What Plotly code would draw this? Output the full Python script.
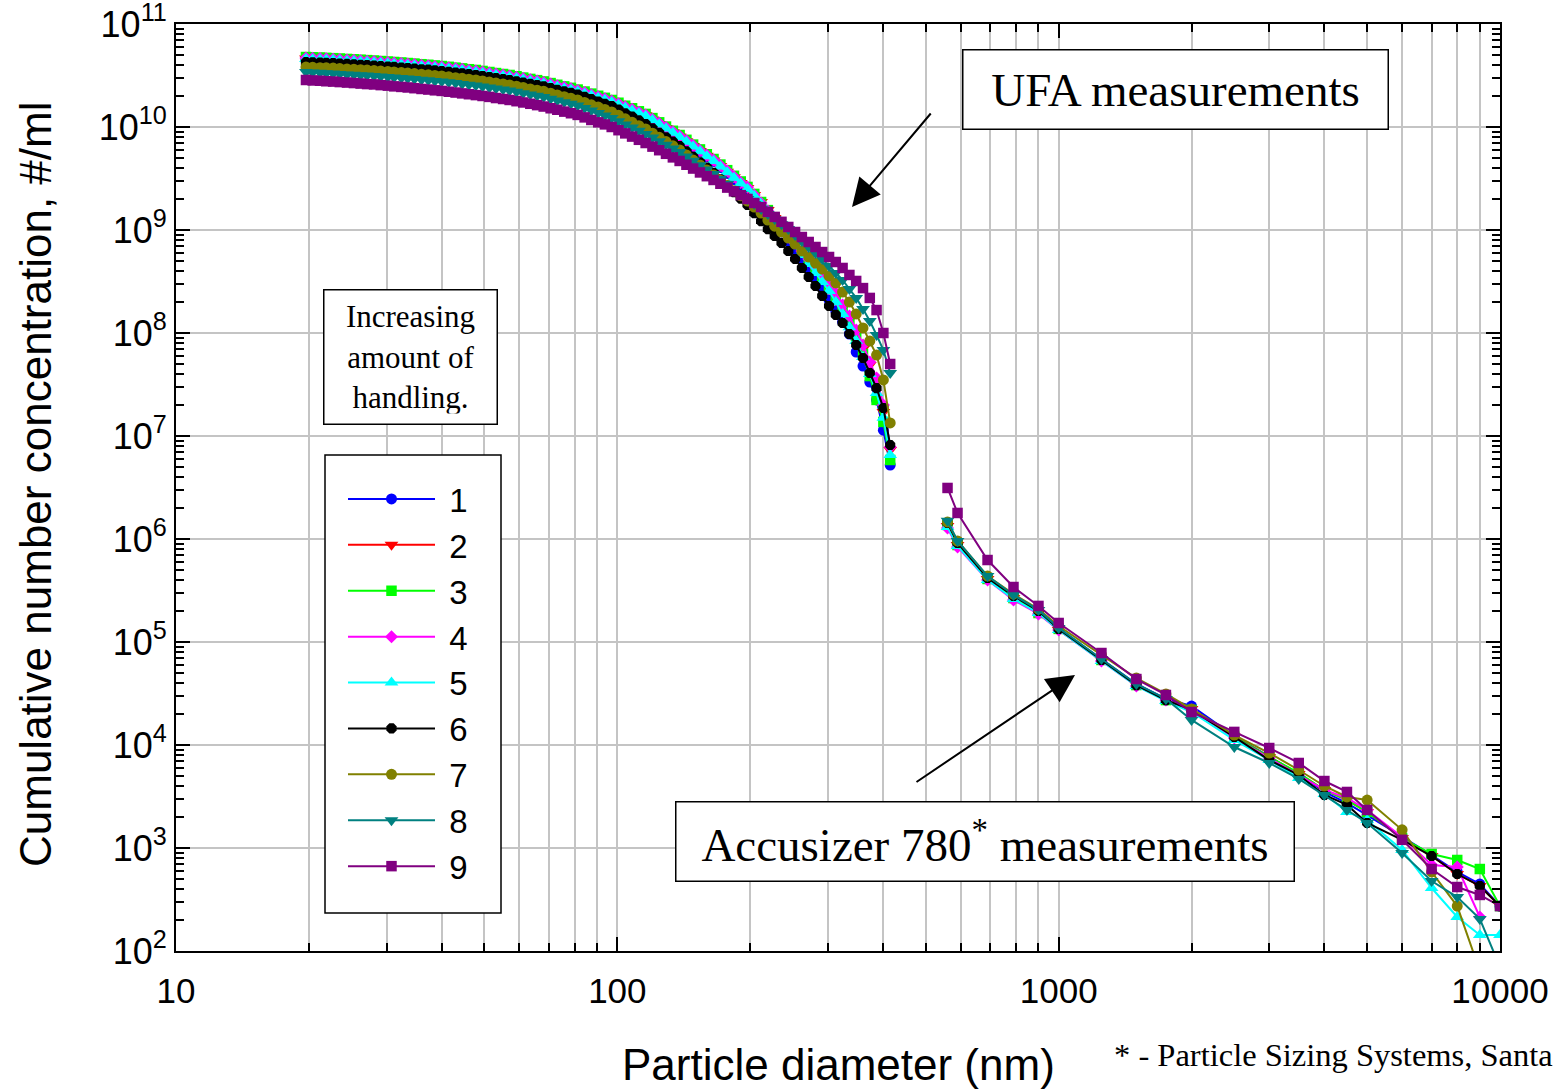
import plotly.graph_objects as go

# UFA channel diameters (nm)
UFA_D = [19.7, 20.4, 21.2, 21.9, 22.7, 23.5, 24.4, 25.3, 26.2, 27.1,
         28.1, 29.1, 30.2, 31.2, 32.4, 33.5, 34.7, 36.0, 37.3, 38.6,
         40.0, 41.5, 43.0, 44.5, 46.1, 47.8, 49.5, 51.3, 53.1, 55.1,
         57.0, 59.1, 61.2, 63.5, 65.8, 68.1, 70.6, 73.1, 75.8, 78.5,
         81.3, 84.3, 87.3, 90.5, 93.7, 97.1, 100.6, 104.2, 108.0, 111.9,
         115.9, 120.1, 124.4, 128.9, 133.6, 138.4, 143.4, 148.5, 153.9, 159.5,
         165.2, 171.2, 177.4, 183.8, 190.4, 197.2, 204.3, 211.7, 219.3, 227.3,
         235.5, 244.0, 252.8, 261.9, 271.4, 281.2, 291.2, 301.8, 312.6, 323.9,
         335.6, 347.7, 360.3, 373.3, 386.7, 400.7, 415.2]

# Accusizer 780 channel diameters (nm)
ACC_D = [560, 590, 690, 790, 900, 1000, 1250, 1500, 1750, 2000, 2500,
         3000, 3500, 4000, 4500, 5000, 6000, 7000, 8000, 9000, 10000]

# Cumulative number concentration (#/ml), one list per sample
S1_UFA = [4.52e10, 4.49e10, 4.46e10, 4.44e10, 4.41e10, 4.37e10, 4.33e10, 4.29e10, 4.26e10, 4.22e10,
          4.18e10, 4.13e10, 4.09e10, 4.05e10, 4.00e10, 3.95e10, 3.91e10, 3.85e10, 3.80e10, 3.74e10,
          3.70e10, 3.63e10, 3.57e10, 3.51e10, 3.44e10, 3.39e10, 3.31e10, 3.23e10, 3.16e10, 3.09e10,
          3.03e10, 2.94e10, 2.86e10, 2.77e10, 2.70e10, 2.62e10, 2.53e10, 2.43e10, 2.35e10, 2.27e10,
          2.18e10, 2.09e10, 2.00e10, 1.90e10, 1.82e10, 1.73e10, 1.63e10, 1.52e10, 1.44e10, 1.34e10,
          1.27e10, 1.15e10, 1.05e10, 9.55e9, 8.69e9, 7.91e9, 7.10e9, 6.38e9, 5.73e9, 5.14e9,
          4.62e9, 4.04e9, 3.54e9, 3.09e9, 2.70e9, 2.34e9, 1.96e9, 1.64e9, 1.37e9, 1.14e9,
          9.56e8, 7.82e8, 6.39e8, 5.23e8, 4.28e8, 3.42e8, 2.73e8, 2.09e8, 1.64e8, 1.28e8,
          9.78e7, 6.54e7, 4.78e7, 3.34e7, 2.24e7, 1.14e7, 5.23e6]
S1_ACC = [1.40e6, 8.94e5, 4.18e5, 2.73e5, 1.96e5, 1.34e5, 6.84e4, 3.91e4, 2.80e4, 2.39e4, 1.22e4,
          7.65e3, 5.23e3, 3.50e3, 2.73e3, 2.09e3, 1.28e3, 855, 585, 447, 273]

S2_UFA = [4.62e10, 4.59e10, 4.56e10, 4.54e10, 4.51e10, 4.47e10, 4.43e10, 4.39e10, 4.35e10, 4.31e10,
          4.27e10, 4.23e10, 4.18e10, 4.14e10, 4.09e10, 4.04e10, 3.99e10, 3.94e10, 3.89e10, 3.83e10,
          3.78e10, 3.71e10, 3.65e10, 3.59e10, 3.52e10, 3.46e10, 3.38e10, 3.31e10, 3.23e10, 3.16e10,
          3.09e10, 3.01e10, 2.92e10, 2.83e10, 2.76e10, 2.68e10, 2.58e10, 2.49e10, 2.40e10, 2.32e10,
          2.23e10, 2.14e10, 2.04e10, 1.94e10, 1.86e10, 1.77e10, 1.66e10, 1.56e10, 1.47e10, 1.37e10,
          1.30e10, 1.18e10, 1.07e10, 9.77e9, 8.89e9, 8.08e9, 7.26e9, 6.53e9, 5.86e9, 5.26e9,
          4.73e9, 4.18e9, 3.68e9, 3.25e9, 2.86e9, 2.56e9, 2.19e9, 1.87e9, 1.56e9, 1.31e9,
          1.09e9, 9.15e8, 7.65e8, 6.39e8, 5.23e8, 4.28e8, 3.50e8, 2.86e8, 2.29e8, 1.75e8,
          1.34e8, 9.78e7, 6.99e7, 4.89e7, 3.27e7, 1.71e7, 7.31e6]
S2_ACC = [1.34e6, 8.74e5, 4.09e5, 2.67e5, 1.91e5, 1.31e5, 6.69e4, 3.82e4, 2.73e4, 2.24e4, 1.20e4,
          7.65e3, 5.23e3, 3.66e3, 2.92e3, 2.24e3, 1.25e3, 836, 559, 428, 273]

S3_UFA = [4.78e10, 4.75e10, 4.72e10, 4.69e10, 4.66e10, 4.62e10, 4.58e10, 4.54e10, 4.50e10, 4.46e10,
          4.42e10, 4.37e10, 4.32e10, 4.28e10, 4.23e10, 4.18e10, 4.13e10, 4.07e10, 4.02e10, 3.96e10,
          3.91e10, 3.84e10, 3.77e10, 3.71e10, 3.64e10, 3.58e10, 3.50e10, 3.42e10, 3.34e10, 3.27e10,
          3.20e10, 3.11e10, 3.02e10, 2.93e10, 2.85e10, 2.77e10, 2.67e10, 2.57e10, 2.48e10, 2.40e10,
          2.31e10, 2.21e10, 2.11e10, 2.01e10, 1.92e10, 1.83e10, 1.72e10, 1.61e10, 1.52e10, 1.42e10,
          1.34e10, 1.22e10, 1.11e10, 1.01e10, 9.19e9, 8.36e9, 7.51e9, 6.75e9, 6.06e9, 5.44e9,
          4.89e9, 4.32e9, 3.81e9, 3.36e9, 2.96e9, 2.62e9, 2.24e9, 1.87e9, 1.56e9, 1.31e9,
          1.09e9, 8.94e8, 7.48e8, 6.25e8, 5.11e8, 4.18e8, 3.42e8, 2.80e8, 2.19e8, 1.64e8,
          1.22e8, 8.94e7, 6.25e7, 3.82e7, 2.24e7, 1.37e7, 5.85e6]
S3_ACC = [1.37e6, 8.74e5, 4.09e5, 2.67e5, 1.91e5, 1.34e5, 6.69e4, 3.82e4, 2.73e4, 2.19e4, 1.20e4,
          7.65e3, 5.35e3, 3.66e3, 2.92e3, 2.24e3, 1.25e3, 874, 765, 625, 273]

S4_UFA = [4.67e10, 4.65e10, 4.62e10, 4.59e10, 4.56e10, 4.52e10, 4.48e10, 4.44e10, 4.40e10, 4.36e10,
          4.32e10, 4.27e10, 4.22e10, 4.19e10, 4.14e10, 4.09e10, 4.04e10, 3.98e10, 3.93e10, 3.87e10,
          3.82e10, 3.76e10, 3.69e10, 3.63e10, 3.56e10, 3.50e10, 3.42e10, 3.34e10, 3.27e10, 3.20e10,
          3.13e10, 3.04e10, 2.95e10, 2.87e10, 2.79e10, 2.71e10, 2.61e10, 2.51e10, 2.43e10, 2.35e10,
          2.26e10, 2.16e10, 2.06e10, 1.97e10, 1.88e10, 1.79e10, 1.68e10, 1.57e10, 1.49e10, 1.39e10,
          1.31e10, 1.19e10, 1.09e10, 9.88e9, 8.99e9, 8.18e9, 7.34e9, 6.60e9, 5.93e9, 5.32e9,
          4.78e9, 4.22e9, 3.73e9, 3.29e9, 2.89e9, 2.60e9, 2.19e9, 1.83e9, 1.53e9, 1.28e9,
          1.07e9, 8.94e8, 7.48e8, 6.25e8, 5.23e8, 4.37e8, 3.66e8, 3.06e8, 2.44e8, 1.87e8,
          1.46e8, 1.07e8, 7.65e7, 5.23e7, 3.66e7, 2.00e7, 7.82e6]
S4_ACC = [1.28e6, 8.36e5, 4.00e5, 2.56e5, 1.87e5, 1.31e5, 6.54e4, 3.74e4, 2.73e4, 2.19e4, 1.17e4,
          7.48e3, 5.11e3, 3.66e3, 3.06e3, 2.34e3, 1.28e3, 684, 654, 214]

S5_UFA = [4.57e10, 4.54e10, 4.51e10, 4.49e10, 4.46e10, 4.42e10, 4.38e10, 4.34e10, 4.30e10, 4.27e10,
          4.23e10, 4.18e10, 4.13e10, 4.09e10, 4.05e10, 4.00e10, 3.95e10, 3.89e10, 3.84e10, 3.79e10,
          3.74e10, 3.67e10, 3.61e10, 3.55e10, 3.48e10, 3.42e10, 3.35e10, 3.27e10, 3.19e10, 3.13e10,
          3.06e10, 2.97e10, 2.89e10, 2.80e10, 2.73e10, 2.65e10, 2.55e10, 2.46e10, 2.37e10, 2.30e10,
          2.21e10, 2.11e10, 2.02e10, 1.92e10, 1.84e10, 1.75e10, 1.64e10, 1.54e10, 1.45e10, 1.36e10,
          1.28e10, 1.17e10, 1.06e10, 9.66e9, 8.79e9, 7.99e9, 7.18e9, 6.46e9, 5.80e9, 5.20e9,
          4.68e9, 4.13e9, 3.64e9, 3.21e9, 2.83e9, 2.50e9, 2.14e9, 1.79e9, 1.50e9, 1.25e9,
          1.05e9, 8.55e8, 6.99e8, 5.72e8, 4.68e8, 3.82e8, 3.13e8, 2.56e8, 2.00e8, 1.53e8,
          1.14e8, 8.36e7, 5.85e7, 4.00e7, 2.62e7, 1.50e7, 6.54e6]
S5_ACC = [1.31e6, 8.55e5, 4.00e5, 2.62e5, 1.91e5, 1.31e5, 6.54e4, 3.74e4, 2.67e4, 2.09e4, 1.12e4,
          7.15e3, 4.78e3, 3.34e3, 2.24e3, 1.87e3, 956, 409, 214, 143, 143]

S6_UFA = [4.27e10, 4.25e10, 4.22e10, 4.19e10, 4.17e10, 4.13e10, 4.10e10, 4.06e10, 4.02e10, 3.99e10,
          3.95e10, 3.91e10, 3.86e10, 3.83e10, 3.78e10, 3.74e10, 3.69e10, 3.64e10, 3.60e10, 3.54e10,
          3.50e10, 3.43e10, 3.37e10, 3.32e10, 3.26e10, 3.20e10, 3.13e10, 3.06e10, 2.99e10, 2.92e10,
          2.86e10, 2.78e10, 2.70e10, 2.62e10, 2.55e10, 2.48e10, 2.39e10, 2.30e10, 2.22e10, 2.15e10,
          2.07e10, 1.96e10, 1.87e10, 1.77e10, 1.68e10, 1.60e10, 1.48e10, 1.36e10, 1.26e10, 1.16e10,
          1.07e10, 9.69e9, 8.78e9, 7.96e9, 7.22e9, 6.54e9, 5.80e9, 5.14e9, 4.55e9, 4.04e9,
          3.58e9, 3.10e9, 2.69e9, 2.33e9, 2.02e9, 1.75e9, 1.46e9, 1.22e9, 1.02e9, 8.74e8,
          7.48e8, 6.25e8, 5.23e8, 4.28e8, 3.50e8, 2.86e8, 2.29e8, 1.83e8, 1.50e8, 1.25e8,
          9.78e7, 7.65e7, 5.72e7, 4.09e7, 2.92e7, 1.87e7, 8.18e6]
S6_ACC = [1.43e6, 9.15e5, 4.18e5, 2.80e5, 2.00e5, 1.34e5, 6.69e4, 3.82e4, 2.73e4, 2.19e4, 1.20e4,
          7.15e3, 5.11e3, 3.27e3, 2.62e3, 1.75e3, 1.20e3, 836, 559, 428, 273]

S7_UFA = [3.82e10, 3.80e10, 3.77e10, 3.75e10, 3.73e10, 3.69e10, 3.66e10, 3.63e10, 3.60e10, 3.57e10,
          3.53e10, 3.49e10, 3.45e10, 3.42e10, 3.38e10, 3.34e10, 3.30e10, 3.25e10, 3.21e10, 3.17e10,
          3.13e10, 3.07e10, 3.01e10, 2.97e10, 2.91e10, 2.86e10, 2.80e10, 2.73e10, 2.67e10, 2.62e10,
          2.56e10, 2.49e10, 2.42e10, 2.34e10, 2.28e10, 2.22e10, 2.13e10, 2.05e10, 1.97e10, 1.90e10,
          1.83e10, 1.73e10, 1.64e10, 1.56e10, 1.48e10, 1.40e10, 1.30e10, 1.20e10, 1.11e10, 1.03e10,
          9.56e9, 8.71e9, 7.93e9, 7.22e9, 6.57e9, 5.98e9, 5.35e9, 4.78e9, 4.28e9, 3.82e9,
          3.42e9, 3.04e9, 2.71e9, 2.41e9, 2.15e9, 1.91e9, 1.67e9, 1.46e9, 1.25e9, 1.09e9,
          9.56e8, 8.36e8, 7.31e8, 6.25e8, 5.47e8, 4.78e8, 4.18e8, 3.58e8, 3.06e8, 2.50e8,
          2.00e8, 1.53e8, 1.12e8, 8.36e7, 6.11e7, 3.50e7, 1.34e7]
S7_ACC = [1.46e6, 9.56e5, 4.37e5, 2.92e5, 2.09e5, 1.43e5, 7.48e4, 4.47e4, 3.13e4, 2.24e4, 1.25e4,
          8.36e3, 5.72e3, 4.00e3, 3.13e3, 2.92e3, 1.50e3, 585, 273, 64]

S8_UFA = [3.42e10, 3.39e10, 3.36e10, 3.33e10, 3.30e10, 3.27e10, 3.24e10, 3.21e10, 3.18e10, 3.16e10,
          3.13e10, 3.09e10, 3.06e10, 3.02e10, 2.99e10, 2.96e10, 2.92e10, 2.88e10, 2.84e10, 2.80e10,
          2.77e10, 2.72e10, 2.67e10, 2.62e10, 2.57e10, 2.53e10, 2.47e10, 2.42e10, 2.36e10, 2.31e10,
          2.26e10, 2.20e10, 2.13e10, 2.07e10, 2.01e10, 1.96e10, 1.88e10, 1.81e10, 1.74e10, 1.68e10,
          1.62e10, 1.53e10, 1.45e10, 1.37e10, 1.29e10, 1.22e10, 1.14e10, 1.06e10, 9.87e9, 9.19e9,
          8.55e9, 7.89e9, 7.28e9, 6.72e9, 6.20e9, 5.72e9, 5.18e9, 4.70e9, 4.26e9, 3.86e9,
          3.50e9, 3.13e9, 2.80e9, 2.50e9, 2.24e9, 2.00e9, 1.79e9, 1.60e9, 1.43e9, 1.28e9,
          1.14e9, 1.02e9, 8.94e8, 7.82e8, 6.84e8, 5.98e8, 5.23e8, 4.47e8, 3.82e8, 3.27e8,
          2.67e8, 2.19e8, 1.71e8, 1.31e8, 9.56e7, 6.84e7, 4.09e7]
S8_ACC = [1.50e6, 9.56e5, 4.37e5, 2.86e5, 2.05e5, 1.37e5, 6.84e4, 3.91e4, 2.80e4, 1.75e4, 9.56e3,
          6.69e3, 4.68e3, 3.27e3, 2.34e3, 1.75e3, 894, 478, 334, 205, 70]

S9_UFA = [2.86e10, 2.83e10, 2.81e10, 2.78e10, 2.76e10, 2.73e10, 2.70e10, 2.67e10, 2.64e10, 2.61e10,
          2.59e10, 2.55e10, 2.52e10, 2.48e10, 2.45e10, 2.42e10, 2.38e10, 2.34e10, 2.31e10, 2.27e10,
          2.24e10, 2.20e10, 2.16e10, 2.12e10, 2.08e10, 2.04e10, 2.00e10, 1.96e10, 1.91e10, 1.87e10,
          1.83e10, 1.78e10, 1.73e10, 1.68e10, 1.63e10, 1.58e10, 1.52e10, 1.47e10, 1.41e10, 1.36e10,
          1.31e10, 1.24e10, 1.17e10, 1.11e10, 1.06e10, 1.00e10, 9.31e9, 8.67e9, 8.07e9, 7.51e9,
          6.99e9, 6.45e9, 5.95e9, 5.49e9, 5.07e9, 4.68e9, 4.30e9, 3.95e9, 3.62e9, 3.33e9,
          3.06e9, 2.81e9, 2.58e9, 2.37e9, 2.18e9, 2.00e9, 1.83e9, 1.67e9, 1.50e9, 1.34e9,
          1.20e9, 1.07e9, 9.56e8, 8.55e8, 7.65e8, 6.84e8, 6.11e8, 5.47e8, 4.89e8, 4.28e8,
          3.66e8, 3.20e8, 2.73e8, 2.19e8, 1.67e8, 1.00e8, 5.00e7]
S9_ACC = [3.13e6, 1.79e6, 6.25e5, 3.42e5, 2.24e5, 1.53e5, 7.82e4, 4.37e4, 3.06e4, 2.09e4, 1.34e4,
          9.35e3, 6.69e3, 4.47e3, 3.50e3, 2.34e3, 1.20e3, 625, 418, 350, 273]

SERIES_NAMES = ["1", "2", "3", "4", "5", "6", "7", "8", "9"]
UFA_VALUES = [S1_UFA, S2_UFA, S3_UFA, S4_UFA, S5_UFA, S6_UFA, S7_UFA, S8_UFA, S9_UFA]
ACC_VALUES = [S1_ACC, S2_ACC, S3_ACC, S4_ACC, S5_ACC, S6_ACC, S7_ACC, S8_ACC, S9_ACC]

COLORS = ["#0000FF", "#FF0000", "#00FF00", "#FF00FF", "#00FFFF",
          "#000000", "#808000", "#008080", "#800080"]
SYMBOLS = ["circle", "triangle-down", "square", "diamond", "triangle-up",
           "octagon", "circle", "triangle-down", "square"]
SIZES = [11, 12, 10.5, 10, 12, 11, 11, 12, 10.5]

SANS = "Arial, Liberation Sans, sans-serif"
SERIF = "Times New Roman, Liberation Serif, serif"
NBSP = "\u00a0"

fig = go.Figure()
for name, ufa, acc, col, sym, sz in zip(SERIES_NAMES, UFA_VALUES, ACC_VALUES,
                                        COLORS, SYMBOLS, SIZES):
    # the two instruments are shown as separate segments of one series
    x = UFA_D[:len(ufa)] + [None] + ACC_D[:len(acc)]
    y = ufa + [None] + acc
    fig.add_trace(go.Scatter(
        x=x, y=y, name=NBSP + name, mode="lines+markers", connectgaps=False,
        line=dict(color=col, width=2),
        marker=dict(symbol=sym, size=sz, color=col, line=dict(width=0)),
    ))

# plot-area geometry in pixels
W, H = 1558, 1090
L, R, T, B = 176, 1500, 24, 951
PW, PH = R - L, B - T


def px(xp):
    return (xp - L) / PW


def py(yp):
    return (B - yp) / PH


x_major = [10, 100, 1000, 10000]
x_minor = [m * 10 ** e for e in (1, 2, 3) for m in range(2, 10)]
y_major = [10 ** e for e in range(2, 12)]
y_minor = [m * 10 ** e for e in range(2, 11) for m in range(2, 10)]
grid = "#c4c4c4"

fig.update_xaxes(
    type="log", range=[1, 4], automargin=False, ticklabeloverflow="allow",
    tickvals=x_major, ticktext=[str(v) for v in x_major],
    tickfont=dict(family=SANS, size=35, color="black"), ticklabelstandoff=8,
    showline=True, linecolor="black", linewidth=2, mirror="allticks",
    ticks="inside", ticklen=14, tickwidth=1.5, tickcolor="black",
    showgrid=True, gridcolor=grid, gridwidth=2, zeroline=False,
    minor=dict(tickvals=x_minor, ticks="inside", ticklen=8, tickwidth=1.5,
               tickcolor="black", showgrid=True, gridcolor=grid, gridwidth=2),
)
fig.update_yaxes(
    type="log", range=[2, 11], automargin=False, ticklabeloverflow="allow",
    tickvals=y_major, ticktext=["10<sup>%d</sup>" % e for e in range(2, 12)],
    tickfont=dict(family=SANS, size=36, color="black"),
    showline=True, linecolor="black", linewidth=2, mirror="allticks",
    ticks="inside", ticklen=14, tickwidth=1.5, tickcolor="black",
    showgrid=True, gridcolor=grid, gridwidth=2, zeroline=False,
    minor=dict(tickvals=y_minor, ticks="inside", ticklen=8, tickwidth=1.5,
               tickcolor="black", showgrid=False),
)

annotations = [
    dict(text="Cumulative number concentration, #/ml", x=px(35), y=py(485),
         textangle=-90, font=dict(family=SANS, size=44, color="black")),
    dict(text="Particle diameter (nm)", x=px(838), y=py(1064),
         font=dict(family=SANS, size=44, color="black")),
    dict(text="* - Particle Sizing Systems, Santa Barbara, CA", x=px(1112), y=py(1055),
         xanchor="left", font=dict(family=SERIF, size=32.5, color="black")),
    dict(text="UFA measurements", x=px(1175), y=py(89), width=404, height=58,
         borderpad=10, bordercolor="black", borderwidth=1.5, bgcolor="white",
         font=dict(family=SERIF, size=47, color="black")),
    dict(text="Accusizer 780<sup>*</sup> measurements", x=px(985.5), y=py(841),
         width=597, height=58, borderpad=10, bordercolor="black", borderwidth=1.5,
         bgcolor="white", font=dict(family=SERIF, size=47, color="black")),
    dict(text="Increasing<br>amount of<br>handling.", x=px(410), y=py(357.5),
         width=152, height=113, borderpad=10, bordercolor="black", borderwidth=1.5,
         bgcolor="white", font=dict(family=SERIF, size=31, color="black")),
    # pointer arrows
    dict(text="", x=px(852), y=py(207), ax=932 - 852, ay=112 - 207,
         showarrow=True, arrowhead=2, arrowsize=2.8, arrowwidth=2, arrowcolor="black"),
    dict(text="", x=px(1075), y=py(675), ax=915 - 1075, ay=783 - 675,
         showarrow=True, arrowhead=2, arrowsize=2.8, arrowwidth=2, arrowcolor="black"),
]
for a in annotations:
    a.setdefault("xref", "paper")
    a.setdefault("yref", "paper")
    a.setdefault("showarrow", False)
    a.setdefault("xanchor", "center")
    a.setdefault("yanchor", "middle")

# frame behind the legend entries
legend_box = dict(type="rect", xref="paper", yref="paper",
                  x0=px(325), x1=px(501), y0=py(913), y1=py(455),
                  line=dict(color="black", width=1.5), fillcolor="white",
                  layer="above")

fig.update_layout(
    width=W, height=H,
    margin=dict(l=L, r=W - R, t=T, b=H - B, autoexpand=False),
    paper_bgcolor="white", plot_bgcolor="white",
    annotations=annotations,
    shapes=[legend_box],
    showlegend=True,
    legend=dict(x=px(343), y=py(471), xanchor="left", yanchor="top",
                borderwidth=0, bgcolor="rgba(0,0,0,0)",
                font=dict(family=SANS, size=33, color="black"),
                itemwidth=87, tracegroupgap=0),
)

fig.write_html("out.html")
